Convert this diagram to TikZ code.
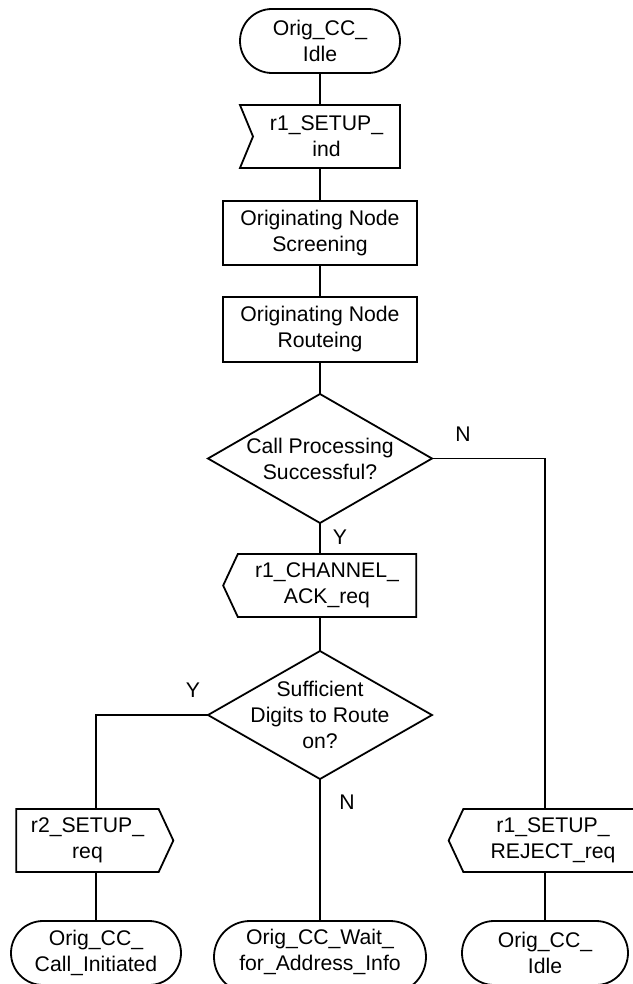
\documentclass[tikz,border=0pt]{standalone}
\usepackage{fontspec}
\setmainfont{Liberation Sans}
\usetikzlibrary{positioning}
\usetikzlibrary{shapes.geometric,shapes.misc,shapes.symbols}

\tikzset{
   txt/.style={font=\fontsize{10.6pt}{13pt}\selectfont, align=center},
   state/.style={txt, draw, rounded rectangle, minimum height=32pt, inner sep=0pt, outer sep=0pt},
   task/.style={txt, draw, rectangle, minimum width=97pt, minimum height=32pt, inner sep=0pt, outer sep=0pt},
   sigin/.style={txt, draw, signal, signal from=west, signal to=nowhere, signal pointer angle=135, minimum height=31.5pt, inner sep=0pt, outer sep=0pt},
   sigout/.style={txt, draw, signal, signal pointer angle=130, minimum height=31.5pt, inner sep=0pt, outer sep=0pt},
   decision/.style={draw, diamond, minimum width=112pt, minimum height=64.5pt, inner sep=0pt, outer sep=0pt},
   lbl/.style={txt, inner sep=0pt}
}

\begin{document}
\begin{tikzpicture}[line width=0.9pt]
    \useasboundingbox (0,0) rectangle (316pt,-492pt);
    % main column
    \node[state, minimum width=80pt] (idle0) at (160pt,-20.5pt) {Orig\_CC\_\\Idle};
    \node[sigin, minimum width=80pt, below = 16pt of idle0, xshift=3.25pt] (setupind) {r1\_SETUP\_\\ind};
    \node[task, below = 16.5pt of setupind.south -| idle0.south] (screen) {Originating Node\\Screening};
    \node[task, minimum height=32.5pt, below = 16pt of screen] (route) {Originating Node\\Routeing};
    \node[decision, below = 16pt of route] (d1) {};
    \node[lbl] (d1txt) at (d1) {Call Processing\\Successful?};
    \node[sigout, signal to=west, minimum width=96.5pt, below = 15.5pt of d1, xshift=3.5pt] (ack) {r1\_CHANNEL\_\\ACK\_req};
    \node[decision, minimum height=64pt, below = 17pt of ack.south -| d1.south] (d2) {};
    \node[lbl] (d2txt) at (d2) {Sufficient\\Digits to Route\\on?};
    \node[state, minimum width=106pt, minimum height=36pt, text depth=7pt, below = 71pt of d2] (waitaddr) {Orig\_CC\_Wait\_\\for\_Address\_Info};
    % side branches
    \node[sigout, signal to=east, minimum width=78.5pt] (r2setup) at (43.75pt,-420.25pt) {r2\_SETUP\_\\req};
    \node[state, minimum width=85pt] (callinit) at (48pt,-476.5pt) {Orig\_CC\_\\Call\_Initiated};
    \node[sigout, signal to=west, minimum width=97pt] (reject) at (276.5pt,-420.25pt) {r1\_SETUP\_\\REJECT\_req};
    \node[state, minimum width=83pt] (idle1) at (272.5pt,-476.5pt) {Orig\_CC\_\\Idle};
    % branch labels
    \node[lbl] (n1) at (231.5pt,-217pt) {N};
    \node[lbl] (y1) at (170pt,-268.5pt) {Y};
    \node[lbl] (y2) at (96.5pt,-345pt) {Y};
    \node[lbl] (n2) at (173.5pt,-401pt) {N};
    % flow lines
    \path[draw] (idle0) -- (setupind.north -| idle0.south);
    \path[draw] (setupind.south -| idle0.south) -- (screen);
    \path[draw] (screen) -- (route);
    \path[draw] (route) -- (d1);
    \path[draw] (d1) -- (ack.north -| d1.south);
    \path[draw] (ack.south -| d2.north) -- (d2);
    \path[draw] (d2) -- (waitaddr);
    \path[draw] (d1.east) -| (reject.north -| idle1.north);
    \path[draw] (reject.south -| idle1.north) -- (idle1);
    \path[draw] (d2.west) -| (r2setup.north -| callinit.north);
    \path[draw] (r2setup.south -| callinit.north) -- (callinit);
\end{tikzpicture}
\end{document}
